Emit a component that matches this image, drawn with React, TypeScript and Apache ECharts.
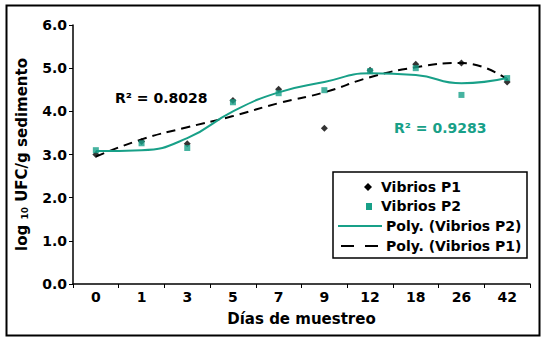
import React, { useEffect, useRef } from "react";
import * as echarts from "echarts";

const days = ["0", "1", "3", "5", "7", "9", "12", "18", "26", "42"];
const vibriosP1 = [3.0, 3.3, 3.25, 4.25, 4.51, 3.61, 4.95, 5.09, 5.12, 4.68];
const vibriosP2 = [3.1, 3.26, 3.15, 4.21, 4.42, 4.49, 4.93, 5.0, 4.38, 4.77];
const polyP1 = [2.95, 3.35, 3.63, 3.89, 4.19, 4.44, 4.79, 5.02, 5.12, 4.74];
const polyP2 = [3.08, 3.1, 3.38, 4.0, 4.44, 4.68, 4.88, 4.84, 4.65, 4.77];
const legendNames = ["Vibrios P1", "Vibrios P2", "Poly. (Vibrios P2)", "Poly. (Vibrios P1)"];
const r2P1 = "R² = 0.8028";
const r2P2 = "R² = 0.9283";

const GREEN = "#18a088";
const FONT = "DejaVu Sans, Liberation Sans, Arial, sans-serif";

export default function App() {
  const ref = useRef<HTMLDivElement>(null);
  useEffect(() => {
    if (!ref.current) return;
    const chart = echarts.init(ref.current, undefined, { renderer: "svg" });
    const legendX = 333;
    const legendY = 172;
    const rowY = [187, 206, 226, 246];
    chart.setOption({
      animation: false,
      backgroundColor: "#ffffff",
      textStyle: { fontFamily: FONT },
      grid: { left: 73, right: 11, top: 25, bottom: 56 },
      xAxis: {
        type: "category",
        data: days,
        boundaryGap: true,
        name: "Días de muestreo",
        nameLocation: "middle",
        nameGap: 27,
        nameTextStyle: { fontFamily: FONT, fontWeight: "bold", fontSize: 15, color: "#000" },
        axisLine: { lineStyle: { color: "#000", width: 1.5 } },
        axisTick: { show: true, length: 4, lineStyle: { color: "#000" } },
        axisLabel: { fontFamily: FONT, fontWeight: "bold", fontSize: 14, color: "#000", margin: 6 },
        splitLine: { show: false },
      },
      yAxis: {
        type: "value",
        min: 0,
        max: 6,
        interval: 1,
        name: "{a|log }{b|10}{a| UFC/g sedimento}",
        nameLocation: "middle",
        nameRotate: 90,
        nameGap: 44,
        nameTextStyle: {
          rich: {
            a: { fontFamily: FONT, fontWeight: "bold", fontSize: 15, color: "#000" },
            b: { fontFamily: FONT, fontWeight: "bold", fontSize: 9, color: "#000", padding: [6, 0, 0, 0] },
          },
        },
        axisLine: { show: true, lineStyle: { color: "#000", width: 1.5 } },
        axisTick: { show: true, length: 4, lineStyle: { color: "#000" } },
        axisLabel: {
          fontFamily: FONT,
          fontWeight: "bold",
          fontSize: 14,
          color: "#000",
          margin: 6,
          formatter: (v: number) => v.toFixed(1),
        },
        splitLine: { show: false },
      },
      series: [
        {
          name: legendNames[3],
          type: "line",
          data: polyP1,
          smooth: 0.5,
          showSymbol: false,
          lineStyle: { color: "#000", width: 2, type: [9, 6] },
          z: 2,
        },
        {
          name: legendNames[2],
          type: "line",
          data: polyP2,
          smooth: 0.5,
          showSymbol: false,
          lineStyle: { color: GREEN, width: 2 },
          z: 3,
        },
        {
          name: legendNames[0],
          type: "scatter",
          data: vibriosP1,
          symbol: "diamond",
          symbolSize: 7,
          itemStyle: { color: "#000" },
          z: 4,
        },
        {
          name: legendNames[1],
          type: "scatter",
          data: vibriosP2,
          symbol: "rect",
          symbolSize: 6,
          itemStyle: { color: GREEN },
          z: 5,
        },
      ],
      graphic: [
        {
          type: "rect",
          left: 4,
          top: 3,
          shape: { x: 0, y: 0, width: 533, height: 330 },
          style: { fill: "none", stroke: "#000", lineWidth: 2 },
          silent: true,
        },
        {
          type: "rect",
          shape: { x: legendX, y: legendY, width: 194, height: 86 },
          style: { fill: "#fff", stroke: "#000", lineWidth: 1.5 },
          z: 10,
        },
        {
          type: "polygon",
          shape: { points: [[368, rowY[0] - 4], [372, rowY[0]], [368, rowY[0] + 4], [364, rowY[0]]] },
          style: { fill: "#000" },
          z: 11,
        },
        {
          type: "rect",
          shape: { x: 366, y: rowY[1] - 3, width: 6, height: 7 },
          style: { fill: GREEN },
          z: 11,
        },
        {
          type: "line",
          shape: { x1: 338, y1: rowY[2], x2: 382, y2: rowY[2] },
          style: { stroke: GREEN, lineWidth: 2 },
          z: 11,
        },
        {
          type: "line",
          shape: { x1: 341, y1: rowY[3], x2: 382, y2: rowY[3] },
          style: { stroke: "#000", lineWidth: 2, lineDash: [13, 11] },
          z: 11,
        },
        ...legendNames.map((n, i) => ({
          type: "text",
          x: i < 2 ? 381 : 386,
          y: rowY[i],
          style: {
            text: n,
            font: `bold 14px ${FONT}`,
            fill: "#000",
            verticalAlign: "middle",
          },
          z: 11,
        })),
        {
          type: "text",
          x: 115,
          y: 98,
          style: {
            text: r2P1,
            font: `bold 14px ${FONT}`,
            fill: "#000",
            verticalAlign: "middle",
          },
          z: 11,
        },
        {
          type: "text",
          x: 394,
          y: 128,
          style: {
            text: r2P2,
            font: `bold 14px ${FONT}`,
            fill: GREEN,
            verticalAlign: "middle",
          },
          z: 11,
        },
      ],
    });
    return () => chart.dispose();
  }, []);
  return (
    <div
      ref={ref}
      style={{ position: "fixed", left: 0, top: 0, width: 541, height: 340 }}
    />
  );
}
